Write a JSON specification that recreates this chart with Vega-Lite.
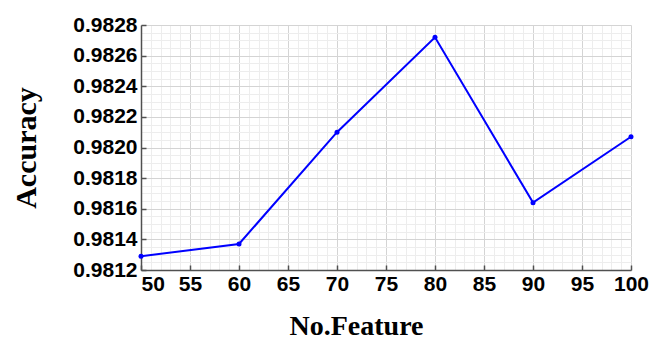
{
  "$schema": "https://vega.github.io/schema/vega-lite/v6.json",
  "width": 490,
  "height": 245,
  "autosize": "none",
  "padding": {"left": 141, "top": 25, "right": 18, "bottom": 70},
  "background": "white",
  "config": {"view": {"stroke": null}},
  "data": {"values": [
    {"feature": 50, "accuracy": 0.98129},
    {"feature": 60, "accuracy": 0.98137},
    {"feature": 70, "accuracy": 0.98210},
    {"feature": 80, "accuracy": 0.98272},
    {"feature": 90, "accuracy": 0.98164},
    {"feature": 100, "accuracy": 0.98207}
  ]},
  "layer": [
    {
      "mark": {"type": "line", "strokeOpacity": 0},
      "encoding": {
        "x": {"field": "feature", "type": "quantitative",
          "scale": {"domain": [50, 100], "nice": false, "zero": false},
          "axis": {"orient": "top", "values": [51,52,53,54,56,57,58,59,61,62,63,64,66,67,68,69,71,72,73,74,76,77,78,79,81,82,83,84,86,87,88,89,91,92,93,94,96,97,98,99],
            "grid": true, "gridColor": "#ededed", "gridWidth": 1, "domain": false, "ticks": false, "labels": false, "title": null}},
        "y": {"field": "accuracy", "type": "quantitative",
          "scale": {"domain": [0.9812, 0.9828], "nice": false, "zero": false},
          "axis": {"orient": "right", "values": [0.98125,0.9813,0.98135,0.98145,0.9815,0.98155,0.98165,0.9817,0.98175,0.98185,0.9819,0.98195,0.98205,0.9821,0.98215,0.98225,0.9823,0.98235,0.98245,0.9825,0.98255,0.98265,0.9827,0.98275],
            "grid": true, "gridColor": "#ededed", "gridWidth": 1, "domain": false, "ticks": false, "labels": false, "title": null}}
      }
    },
    {
      "mark": {"type": "line", "color": "#0000ff", "strokeWidth": 2, "point": {"filled": true, "size": 25, "color": "#0000ff"}},
      "encoding": {
        "x": {"field": "feature", "type": "quantitative",
          "axis": {"orient": "bottom", "values": [50,55,60,65,70,75,80,85,90,95,100],
            "grid": true, "gridColor": "#d4d4d4", "gridWidth": 1,
            "domainColor": "#505050", "domainWidth": 1.5, "tickColor": "#505050", "tickSize": -5, "tickWidth": 1.5,
            "labelFont": "Liberation Sans", "labelFontWeight": "bold", "labelFontSize": 21, "labelColor": "black",
            "labelPadding": 8, "labelAlign": {"expr": "datum.value == 50 ? 'left' : 'center'"},
            "title": "No.Feature", "titleFont": "Liberation Serif", "titleFontWeight": "bold", "titleFontSize": 28, "titleColor": "black",
            "titleX": 215, "titleY": 64, "titleBaseline": "alphabetic", "titleAlign": "center"}},
        "y": {"field": "accuracy", "type": "quantitative",
          "axis": {"orient": "left", "values": [0.9812,0.9814,0.9816,0.9818,0.982,0.9822,0.9824,0.9826,0.9828], "format": ".4f",
            "grid": true, "gridColor": "#d4d4d4", "gridWidth": 1,
            "domainColor": "#505050", "domainWidth": 1.5, "tickColor": "#505050", "tickSize": -5, "tickWidth": 1.5,
            "labelFont": "Liberation Sans", "labelFontWeight": "bold", "labelFontSize": 21, "labelColor": "black",
            "labelPadding": 9,
            "title": "Accuracy", "titleFont": "Liberation Serif", "titleFontWeight": "bold", "titleFontSize": 30, "titleColor": "black",
            "titleX": -106, "titleY": 122.5, "titleBaseline": "alphabetic", "titleAlign": "center", "titleAngle": -90}}
      }
    }
  ],
  "resolve": {"axis": {"x": "independent", "y": "independent"}}
}
